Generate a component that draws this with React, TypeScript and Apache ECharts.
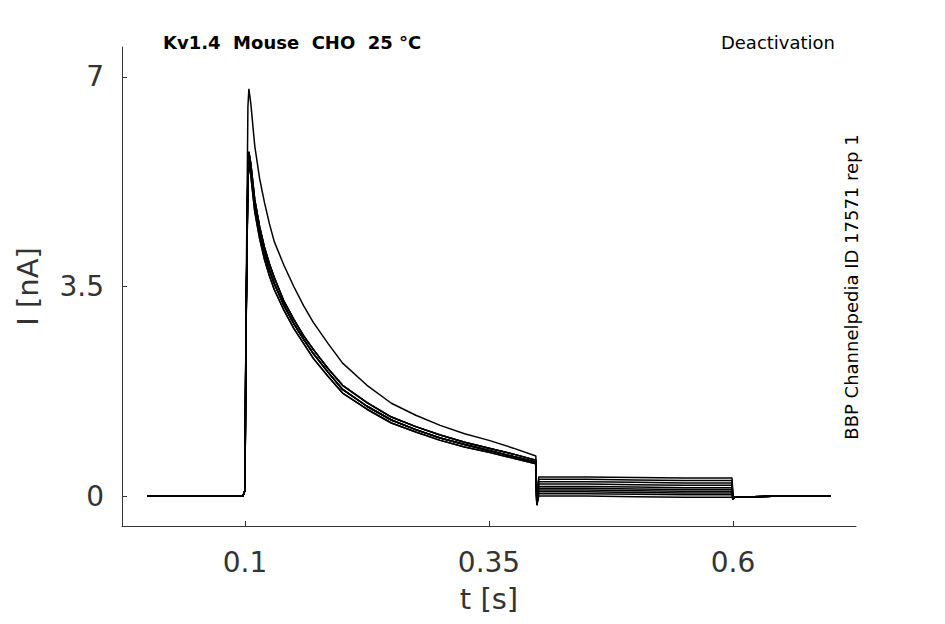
import { useEffect, useRef } from 'react'
import * as echarts from 'echarts'

// time points of the step (s)
const preT = [0, 0.05, 0.098]
const pulseT = [0.1, 0.101, 0.103, 0.104, 0.106, 0.108, 0.11, 0.115, 0.12, 0.125, 0.13, 0.14, 0.15, 0.16, 0.17, 0.185, 0.2, 0.225, 0.25, 0.275, 0.3, 0.325, 0.35, 0.375, 0.398]
const tailT = [0.399, 0.401, 0.45, 0.5, 0.55, 0.599]
const postT = [0.6, 0.601, 0.65, 0.7]

// current during the pulse (nA)
const topTrace = [0.1, 3.0, 6.5, 6.8, 6.55, 6.2, 5.85, 5.3, 4.9, 4.55, 4.25, 3.85, 3.5, 3.18, 2.9, 2.55, 2.22, 1.85, 1.55, 1.35, 1.18, 1.04, 0.93, 0.8, 0.67]
const upperTrace = [0.1, 2.8, 5.5, 5.75, 5.55, 5.25, 4.95, 4.5, 4.15, 3.88, 3.65, 3.25, 2.95, 2.68, 2.45, 2.13, 1.85, 1.56, 1.32, 1.16, 1.02, 0.9, 0.8, 0.7, 0.6]
const midTrace = [0.1, 2.7, 5.4, 5.65, 5.45, 5.15, 4.85, 4.4, 4.05, 3.78, 3.55, 3.18, 2.88, 2.62, 2.38, 2.07, 1.78, 1.5, 1.27, 1.11, 0.97, 0.86, 0.76, 0.66, 0.57]
const lowerTrace = [0.1, 2.6, 5.3, 5.55, 5.35, 5.05, 4.75, 4.3, 3.95, 3.68, 3.45, 3.1, 2.8, 2.55, 2.3, 2.0, 1.72, 1.45, 1.22, 1.07, 0.93, 0.82, 0.73, 0.63, 0.54]

// tail current after the step to the deactivation potential (nA)
const tailLevels = [0.32, 0.28, 0.24, 0.2, 0.16, 0.13, 0.1, 0.07, 0.04, 0.0]
const shapes = [topTrace, upperTrace, upperTrace, midTrace, midTrace, midTrace, lowerTrace, lowerTrace, midTrace, upperTrace]

const xTicks = [0.1, 0.35, 0.6]
const yTicks = [0, 3.5, 7]

const App = () => {
  const chartRef = useRef<HTMLDivElement>(null)

  useEffect(() => {
    if (!chartRef.current) return
    document.body.style.margin = '0'
    const chart = echarts.init(chartRef.current, null, { renderer: 'svg' })

    const series = shapes.map((shape, i) => {
      const tail = tailLevels[i]
      const data: number[][] = []
      preT.forEach((t) => data.push([t, 0]))
      pulseT.forEach((t, j) => data.push([t, shape[j]]))
      const tailVals = [-0.15, tail, tail, tail - 0.01, tail - 0.02, tail - 0.02]
      tailT.forEach((t, j) => data.push([t, tailVals[j]]))
      const postVals = [-0.06, -0.02, 0, 0]
      postT.forEach((t, j) => data.push([t, postVals[j]]))
      return {
        type: 'line' as const,
        data,
        showSymbol: false,
        lineStyle: { color: '#000', width: 1.5 },
        silent: true,
      }
    })

    const font = 'DejaVu Sans'
    chart.setOption({
      animation: false,
      backgroundColor: '#fff',
      grid: { left: 122, right: 89, top: 47, bottom: 98 },
      title: [
        { text: 'Kv1.4  Mouse  CHO  25 °C', left: 158, top: 28, textStyle: { fontSize: 18, fontWeight: 'bold', color: '#000', fontFamily: font } },
        { text: 'Deactivation', right: 105, top: 28, textStyle: { fontSize: 18, fontWeight: 'normal', color: '#000', fontFamily: font } },
      ],
      graphic: [
        {
          type: 'text', x: 860, y: 287, rotation: Math.PI / 2,
          style: { text: 'BBP Channelpedia ID 17571 rep 1', fontSize: 18, fill: '#000', fontFamily: font, align: 'center', verticalAlign: 'bottom' },
        },
      ],
      xAxis: {
        type: 'value', min: -0.026, max: 0.726,
        name: 't [s]', nameLocation: 'middle', nameGap: 58,
        nameTextStyle: { fontSize: 29, color: '#333', fontFamily: font },
        axisLine: { onZero: false, lineStyle: { color: '#333' } },
        axisTick: { inside: true, length: 5, customValues: xTicks, lineStyle: { color: '#333' } },
        axisLabel: { customValues: xTicks, fontSize: 28, color: '#333', margin: 22, fontFamily: font },
        splitLine: { show: false },
      },
      yAxis: {
        type: 'value', min: -0.5, max: 7.5,
        name: 'I [nA]', nameLocation: 'middle', nameGap: 80,
        nameTextStyle: { fontSize: 29, color: '#333', fontFamily: font },
        axisLine: { show: true, onZero: false, lineStyle: { color: '#333' } },
        axisTick: { show: true, inside: true, length: 5, customValues: yTicks, lineStyle: { color: '#333' } },
        axisLabel: { customValues: yTicks, fontSize: 28, color: '#333', margin: 18, fontFamily: font },
        splitLine: { show: false },
      },
      series,
    })

    return () => chart.dispose()
  }, [])

  return <div ref={chartRef} style={{ width: 945, height: 624, background: '#fff' }} />
}

export default App
